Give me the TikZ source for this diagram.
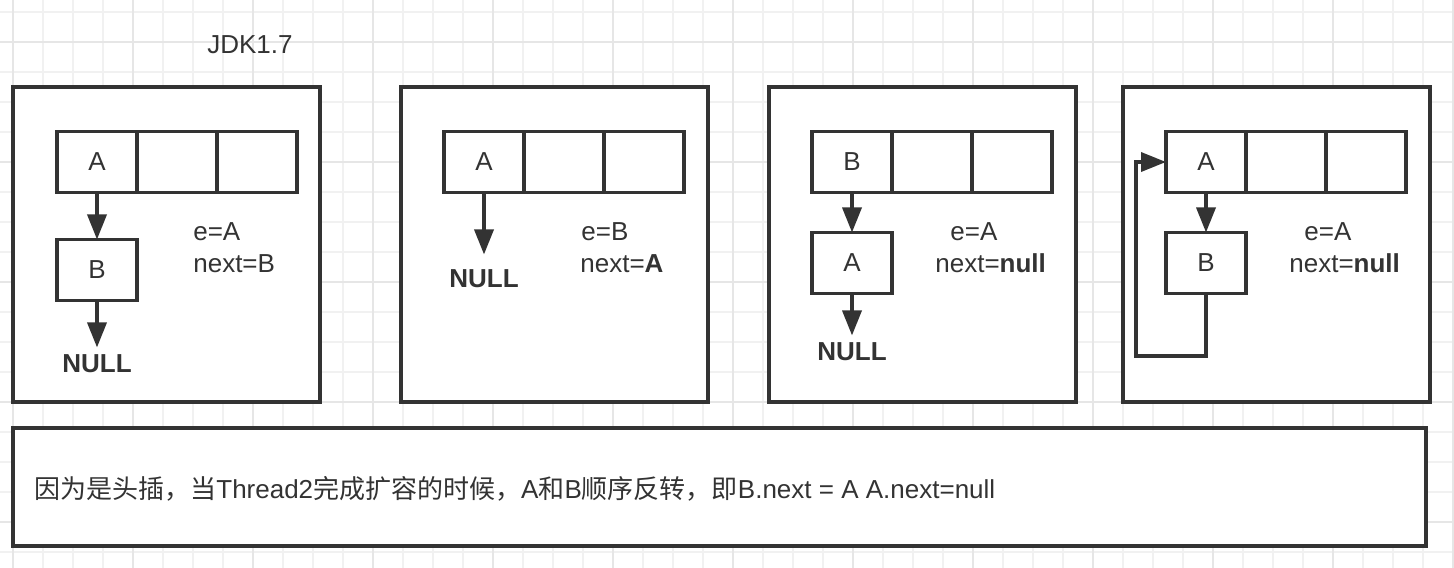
\documentclass[tikz,border=0pt]{standalone}
\usepackage{fontspec}
\setmainfont{Liberation Sans}
\newfontfamily\cjk{Noto Sans CJK SC}
\usepackage{tikz}
\usetikzlibrary{positioning,arrows.meta}
\definecolor{ink}{HTML}{333333}
\definecolor{gridminor}{HTML}{F1F1F1}
\definecolor{gridmajor}{HTML}{E6E6E6}
\newcommand\diagfont{\fontsize{14.8pt}{18pt}\selectfont}
\tikzset{
    frame/.style={draw=ink, line width=2pt, fill=white},
    cell/.style={draw=ink, line width=2pt, fill=white, minimum width=1.6cm, minimum height=1.22cm, inner sep=0pt, outer sep=0pt, text=ink},
    nullnode/.style={inner sep=0.14cm, text=ink, font=\diagfont\bfseries},
    link/.style={draw=ink, line width=2pt, -{Triangle[length=0.5cm,width=0.38cm]}},
    note/.style={anchor=base west, inner sep=0pt, text=ink}
}

\begin{document}
\begin{tikzpicture}[x=0.02cm, y=-0.02cm, font=\diagfont]
        \useasboundingbox (0,0) rectangle (1454,568);
        \foreach \x in {13,43,...,1453} \draw[gridminor, line width=0.6pt] (\x,0) -- (\x,568);
        \foreach \y in {12,42,...,552} \draw[gridminor, line width=0.6pt] (0,\y) -- (1454,\y);
        \foreach \x in {13,133,...,1453} \draw[gridmajor, line width=0.8pt] (\x,0) -- (\x,568);
        \foreach \y in {42,162,...,552} \draw[gridmajor, line width=0.8pt] (0,\y) -- (1454,\y);
        \node[note] (title) at (207,53) {JDK1.7};
        \draw[frame] (13,87) rectangle (320,402);
        \draw[frame] (401,87) rectangle (708,402);
        \draw[frame] (769,87) rectangle (1076,402);
        \draw[frame] (1123,87) rectangle (1430,402);
        \draw[frame] (13,428) rectangle (1426,546);
        \node[cell] (a1) at (97,162) {A};
        \node[cell, right=0cm of a1] (a1b) {};
        \node[cell, right=0cm of a1b] (a1c) {};
        \node[cell, below=0.94cm of a1] (b1) {B};
        \node[nullnode, below=0.94cm of b1] (n1) {NULL};
        \draw[link] (a1.south) -- (b1.north);
        \draw[link] (b1.south) -- (n1.north);
        \node[note] (e1) at (193,240) {e=A};
        \node[note] (x1) at (193,272) {next=B};
        \node[cell] (a2) at (484,162) {A};
        \node[cell, right=0cm of a2] (a2b) {};
        \node[cell, right=0cm of a2b] (a2c) {};
        \node[nullnode, below=1.4cm of a2] (n2) {NULL};
        \draw[link, shorten >=0.16cm] (a2.south) -- (n2.north);
        \node[note] (e2) at (581,240) {e=B};
        \node[note] (x2) at (580,272) {next=\textbf{A}};
        \node[cell] (a3) at (852,162) {B};
        \node[cell, right=0cm of a3] (a3b) {};
        \node[cell, right=0cm of a3b] (a3c) {};
        \node[cell, below=0.8cm of a3] (b3) {A};
        \node[nullnode, below=0.84cm of b3] (n3) {NULL};
        \draw[link] (a3.south) -- (b3.north);
        \draw[link] (b3.south) -- (n3.north);
        \node[note] (e3) at (950,240) {e=A};
        \node[note] (x3) at (935,272) {next=\textbf{null}};
        \node[cell] (a4) at (1206,162) {A};
        \node[cell, right=0cm of a4] (a4b) {};
        \node[cell, right=0cm of a4b] (a4c) {};
        \node[cell, below=0.8cm of a4] (b4) {B};
        \coordinate (loop4) at (1136,356);
        \draw[link] (a4.south) -- (b4.north);
        \draw[link] (b4.south) |- (loop4) |- (a4.west);
        \node[note] (e4) at (1304,240) {e=A};
        \node[note] (x4) at (1289,272) {next=\textbf{null}};
        \node[note] (memo) at (34,498) {{\cjk 因为是头插，当}Thread2{\cjk 完成扩容的时候，}A{\cjk 和}B{\cjk 顺序反转，即}B.next = A A.next=null};
\end{tikzpicture}
\end{document}
